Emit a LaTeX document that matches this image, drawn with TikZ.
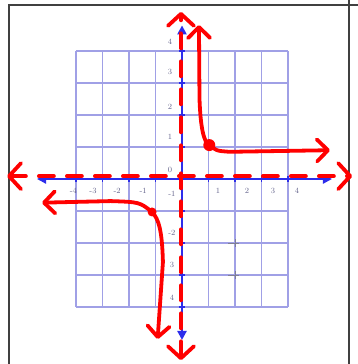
\documentclass[tikz,border=0pt]{standalone}
\usetikzlibrary{arrows.meta}

\definecolor{bleugrille}{RGB}{160,160,230}
\definecolor{bleuaxe}{RGB}{45,45,235}
\definecolor{grischiffre}{RGB}{100,100,140}

\tikzset{
  cadre/.style={line width=1.5pt, black!75},
  grille/.style={bleugrille, line width=1.2pt},
  axe/.style={bleuaxe, line width=2.6pt, >={Triangle[length=9pt,width=9pt]}, <->},
  graduation/.style={bleuaxe, line width=1.4pt},
  chiffre/.style={text=grischiffre, font=\footnotesize, inner sep=0pt},
  asymptote/.style={red, line width=3.8pt, line cap=round, dash pattern=on 15pt off 13pt,
    >={Straight Barb[round,length=12pt,width=26pt]}, <->},
  branche/.style={red, line width=3.8pt, line cap=round, line join=round,
    >={Straight Barb[round,length=11pt,width=22pt]}, <->},
}

\begin{document}
\begin{tikzpicture}[x=26.5pt, y=32pt]
    % Taille de la page
    \useasboundingbox (-6.868,-5.781) rectangle (6.604,5.594);

    % Coordonnées
    \coordinate (O) at (0,0);
    \coordinate (Xg) at (-5.47,0);
    \coordinate (Xd) at (5.66,0);
    \coordinate (Yb) at (0,-5.03);
    \coordinate (Yh) at (0,4.8);
    \coordinate (P) at (1.03,1.06);
    \coordinate (Q) at (-1.13,-1.03);

    % Cadre du tableau
    \draw[cadre] (-6.53,-5.9) -- (-6.53,5.44) -- (6.7,5.44);
    \draw[cadre] (6.30,5.7) -- (6.30,-5.9);

    % Grille
    \foreach \k in {-4,...,4} {
        \draw[grille] (\k,-4) -- (\k,4);
        \draw[grille] (-4,\k) -- (4,\k);
    }

    % Axes et graduations
    \draw[axe] (Xg) -- (Xd);
    \draw[axe] (Yb) -- (Yh);
    \foreach \k in {-4,...,4} {
        \draw[graduation] (\k,-0.09) -- (\k,0.09);
        \draw[graduation] (-0.13,\k) -- (0.13,\k);
    }

    % Chiffres des axes
    \foreach \t/\y [count=\i] in {4/4.28, 3/3.34, 2/2.25, 1/1.31, 0/0.28}
        \node[chiffre] (yh\i) at (-0.45,\y) {\t};
    \foreach \t/\y [count=\i] in {-1/-0.47, -2/-1.69, 3/-2.69, 4/-3.72}
        \node[chiffre] (yb\i) at (-0.38,\y) {\t};
    \foreach \t/\x [count=\i] in {-4/-4.1, -3/-3.36, -2/-2.45, -1/-1.47, 1/1.36, 2/2.45, 3/3.43, 4/4.34}
        \node[chiffre] (x\i) at (\x,-0.36) {\t};

    % Marques au crayon
    \foreach \y in {-2,-3}
        \draw[black!55, line width=1pt, opacity=0.7] (1.75,\y) -- (2.15,\y) (2,\y-0.12) -- (2,\y+0.12);

    % Asymptotes en pointillés
    \draw[asymptote] (-6.6,0.09) -- (6.42,0.09);
    \draw[asymptote] (-0.04,-5.66) -- (-0.04,5.22);

    % Branches de l'hyperbole
    \draw[branche] (0.64,4.81) -- (0.66,2.5) .. controls (0.7,1.6) and (0.82,1.15) .. (P)
        .. controls (1.3,0.88) .. (1.8,0.85) -- (5.58,0.9);
    \draw[branche] (-5.28,-0.74) -- (-2.7,-0.69) .. controls (-1.6,-0.72) .. (Q)
        .. controls (-0.88,-1.25) and (-0.75,-1.6) .. (-0.72,-2.6) -- (-0.92,-5.0);

    % Points
    \fill[red] (P) circle (6pt);
    \fill[red] (Q) circle (4.5pt);
\end{tikzpicture}
\end{document}
